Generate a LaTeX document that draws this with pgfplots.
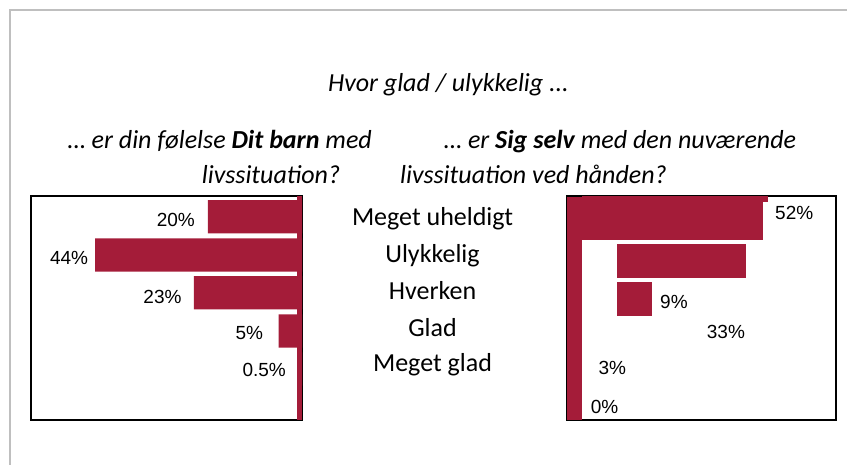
\documentclass[border=0pt]{standalone}
\usepackage{fontspec}
\setmainfont{Carlito}
\newfontfamily\arialfont{Liberation Sans}
\usepackage{pgfplots}
\pgfplotsset{compat=1.18}
\definecolor{barred}{RGB}{164,28,57}

\pgfplotsset{
  panel/.style={
    scale only axis, height=224pt,
    anchor=south west,
    ymin=196, ymax=420, y dir=reverse,
    xtick=\empty, ytick=\empty,
    axis line style={line width=2pt, black},
    major tick length=0pt,
  },
  pct/.style={
    draw=none, mark=none, nodes near coords, point meta=explicit symbolic,
    every node near coord/.style={anchor=#1, inner sep=0pt, text=black,
      font=\arialfont\fontsize{19}{22}\selectfont},
  },
  bar/.style={xbar, bar shift=0pt, bar width=#1, fill=barred, draw=none},
}

\begin{document}
\begin{tikzpicture}
\path[use as bounding box] (0,0) rectangle (847pt,465pt);
\draw[gray!50, line width=2pt] (10pt,-2pt) -- (10pt,455pt) -- (850pt,455pt);

% titles
\node[anchor=base, inner sep=0pt, font=\itshape\fontsize{26}{30}\selectfont]
  at (448.5pt,373.3pt) {Hvor glad / ulykkelig ...};
\node[anchor=base east, inner sep=0pt, font=\itshape\fontsize{26}{30}\selectfont]
  at (372pt,316.7pt) {… er din følelse \textbf{Dit barn} med};
\node[anchor=base west, inner sep=0pt, font=\itshape\fontsize{26}{30}\selectfont]
  at (444pt,316.7pt) {… er \textbf{Sig selv} med den nuværende};
\node[anchor=base west, inner sep=0pt, font=\itshape\fontsize{26}{30}\selectfont]
  at (201.7pt,281.7pt) {livssituation?};
\node[anchor=base east, inner sep=0pt, font=\itshape\fontsize{26}{30}\selectfont]
  at (667pt,281.7pt) {livssituation ved hånden?};

% left panel: Dit barn
\begin{axis}[panel, at={(31pt,45pt)}, width=271pt,
  xmin=0, xmax=57.66, x dir=reverse,
  ytick={226,262.7,299.3,336.7,371.7},
  yticklabels={Meget uheldigt, Ulykkelig, Hverken, Glad, Meget glad},
  yticklabel pos=right, ytick style={draw=none},
  yticklabel style={anchor=base, inner sep=0pt, xshift=130.5pt,
    font=\fontsize{26}{30}\selectfont},
]
\addplot[bar=33.3] coordinates {(20,216.7) (44,255) (23,292.7) (5,331) (0.5,369)};
\addplot[bar=224] coordinates {(1.0,308)};
\addplot[pct=base east] coordinates {
  (22.77,226.7) [20\%] (45.47,265) [44\%] (25.6,303.3) [23\%]
  (8.23,340) [5\%] (3.4,376.7) [0.5\%]};
\end{axis}

% right panel: Sig selv
\begin{axis}[panel, at={(567pt,45pt)}, width=269pt,
  xmin=0, xmax=68.97,
]
\addplot[bar=223] coordinates {(3.85,308.5)};
\addplot[bar=43] coordinates {(50.3,218.5)};
\addplot[fill=barred, draw=none] coordinates {(3.85,195.7) (51.5,195.7) (51.5,201.7) (3.85,201.7)};
\addplot[fill=barred, draw=none] coordinates {(12.8,244) (45.9,244) (45.9,277.7) (12.8,277.7)};
\addplot[fill=barred, draw=none] coordinates {(12.8,282) (21.8,282) (21.8,315.7) (12.8,315.7)};
\addplot[pct=base west] coordinates {
  (53.33,220) [52\%] (23.85,309) [9\%] (35.82,338.3) [33\%]
  (8.03,375) [3\%] (6.08,413.3) [0\%]};
\end{axis}
\end{tikzpicture}
\end{document}
